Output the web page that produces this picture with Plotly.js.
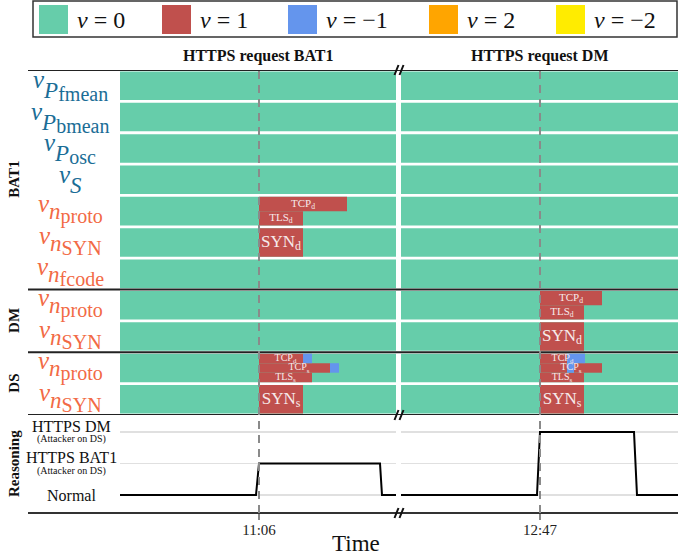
<!DOCTYPE html>
<html><head><meta charset="utf-8">
<script src="https://cdn.plot.ly/plotly-3.0.1.min.js"></script>
<style>html,body{margin:0;padding:0;background:#fff}</style>
</head><body><div id="chart" style="width:678px;height:558px"></div>
<script>
// ---------------- data ----------------
const legendValues = [0, 1, -1, 2, -2];
const legendLabels = ['<i>v</i> = 0', '<i>v</i> = 1', '<i>v</i> = \u22121', '<i>v</i> = 2', '<i>v</i> = \u22122'];

const panelTitles = ['HTTPS request BAT1', 'HTTPS request DM'];
const panelTickLabels = ['11:06', '12:47'];
const panelEventTime = [0, 0];          // seconds relative to the tick time
const panelStart = [-139, -139];
const panelEnd = [137, 138];

const rowSymbols = ['P', 'P', 'P', 'S', 'n', 'n', 'n', 'n', 'n', 'n', 'n'];
const rowSubscripts = ['fmean', 'bmean', 'osc', '', 'proto', 'SYN', 'fcode', 'proto', 'SYN', 'proto', 'SYN'];
const groupNames = ['BAT1', 'DM', 'DS'];
const groupFirstRow = [0, 7, 9];
const groupLastRow = [6, 8, 10];

// anomaly segments
const segPanel = [0, 0, 0, 0, 0, 0, 0, 0, 0, 1, 1, 1, 1, 1, 1, 1, 1, 1, 1];
const segRow   = [4, 4, 5, 9, 9, 9, 9, 9, 10, 7, 7, 8, 9, 9, 9, 9, 9, 9, 10];
const segSlot  = [0, 1, 0, 0, 0, 1, 1, 2, 0, 0, 1, 0, 0, 0, 1, 1, 1, 2, 0];
const segSlots = [2, 2, 1, 3, 3, 3, 3, 3, 1, 2, 2, 1, 3, 3, 3, 3, 3, 3, 1];
const segStart = [0, 0, 0, 0, 44, 0, 71, 0, 0, 0, 0, 0, 0, 27, 0, 27, 34, 0, 0];
const segEnd   = [88, 44, 44, 44, 53, 71, 80, 53, 44, 62, 44, 44, 27, 45, 27, 34, 62, 44, 44];
const segValue = [1, 1, 1, 1, -1, 1, -1, 1, 1, 1, 1, 1, 1, -1, 1, -1, 1, 1, 1];
const segLabel = ['TCP_d', 'TLS_d', 'SYN_d', 'TCP_d', '', 'TCP_s', '', 'TLS_s', 'SYN_s',
                  'TCP_d', 'TLS_d', 'SYN_d', 'TCP_d', '', 'TCP_s', '', '', 'TLS_s', 'SYN_s'];

// reasoning
const reasonLevels = [0, 1, 2];
const reasonLabels = ['Normal', 'HTTPS BAT1', 'HTTPS DM'];
const reasonNotes = ['', '(Attacker on DS)', '(Attacker on DS)'];
const reasonTime = [[-139, -3, 0, 121, 123, 137], [-139, -3, 0, 94, 97, 138]];
const reasonValue = [[0, 0, 1, 1, 0, 0], [0, 0, 2, 2, 0, 0]];

// ---------------- style ----------------
const W = 678, H = 558;
const fx = p => p / W;
const fy = p => 1 - p / H;
const FONT = 'Liberation Serif, DejaVu Serif, serif';
const valueColor = {'0': '#66cdaa', '1': '#c0504d', '-1': '#6495ed', '2': '#ffa500', '-2': '#ffec00'};
const BLUE = '#1a6d96', ORANGE = '#f26a45';
const ROWH = 0.91;
const xAxisIds = ['x', 'x2'];

function subText(s) {
  const m = s.split('_');
  return m.length > 1 ? m[0] + '<sub>' + m[1] + '</sub>' : s;
}

const traces = [];
const nRows = rowSymbols.length;
for (let p = 0; p < 2; p++) {
  const xa = xAxisIds[p];
  const ys = [], bases = [], lens = [];
  for (let r = 0; r < nRows; r++) { ys.push(r); bases.push(panelStart[p]); lens.push(panelEnd[p] - panelStart[p]); }
  traces.push({type: 'bar', orientation: 'h', y: ys, base: bases, x: lens, width: ROWH,
    marker: {color: valueColor['0'], line: {width: 0}}, xaxis: xa, yaxis: 'y2', hoverinfo: 'skip'});
  [1, -1, 2, -2].forEach(v => {
    const y = [], b = [], l = [], w = [];
    for (let i = 0; i < segPanel.length; i++) {
      if (segPanel[i] !== p || segValue[i] !== v) continue;
      const h = ROWH / segSlots[i];
      y.push(segRow[i] - ROWH / 2 + (segSlot[i] + 0.5) * h);
      b.push(segStart[i]); l.push(segEnd[i] - segStart[i]); w.push(h);
    }
    if (y.length) traces.push({type: 'bar', orientation: 'h', y: y, base: b, x: l, width: w,
      marker: {color: valueColor[String(v)], line: {width: 0}}, xaxis: xa, yaxis: 'y2', hoverinfo: 'skip'});
  });
  const tx = [], ty = [], tt = [], ts = [];
  for (let i = 0; i < segPanel.length; i++) {
    if (segPanel[i] !== p || !segLabel[i]) continue;
    let lo = Infinity, hi = -Infinity;
    for (let j = 0; j < segPanel.length; j++) {
      if (segPanel[j] === p && segRow[j] === segRow[i] && segSlot[j] === segSlot[i]) {
        lo = Math.min(lo, segStart[j]); hi = Math.max(hi, segEnd[j]);
      }
    }
    const h = ROWH / segSlots[i];
    tx.push((lo + hi) / 2);
    ty.push(segRow[i] - ROWH / 2 + (segSlot[i] + 0.5) * h);
    tt.push(subText(segLabel[i]));
    ts.push(segSlots[i] === 1 ? 17 : (segSlots[i] === 2 ? 11 : 10));
  }
  traces.push({type: 'scatter', mode: 'text', x: tx, y: ty, text: tt, textposition: 'middle center',
    textfont: {family: FONT, size: ts, color: '#f6eaea'}, xaxis: xa, yaxis: 'y2', hoverinfo: 'skip', cliponaxis: false});
  traces.push({type: 'scatter', mode: 'lines', x: reasonTime[p], y: reasonValue[p],
    line: {color: '#000', width: 2}, xaxis: xa, yaxis: 'y', hoverinfo: 'skip'});
}

// ---------------- layout ----------------
const shapes = [], annotations = [];
function note(o) { o.showarrow = false; if (!o.xanchor) o.xanchor = 'center'; if (!o.yanchor) o.yanchor = 'middle'; annotations.push(o); }

const bounds = new Set();
groupFirstRow.forEach(r => bounds.add(r - 0.5));
groupLastRow.forEach(r => bounds.add(r + 0.5));
bounds.forEach(b => shapes.push({type: 'line', xref: 'paper', yref: 'y2', x0: fx(28), x1: 1, y0: b, y1: b,
  line: {color: '#222', width: 2}, layer: 'above'}));
shapes.push({type: 'line', xref: 'paper', yref: 'y domain', x0: fx(28), x1: 1, y0: 0, y1: 0,
  line: {color: '#333', width: 2}, layer: 'above'});
for (let p = 0; p < 2; p++) {
  shapes.push({type: 'line', xref: xAxisIds[p], yref: 'paper', x0: panelEventTime[p], x1: panelEventTime[p],
    y0: fy(513), y1: fy(70), line: {color: '#8a8a8a', width: 2, dash: '8px,6px'}, layer: 'above'});
}
[70, 415, 513].forEach(yy => {
  [394.5, 399.5].forEach(xx => shapes.push({type: 'line', xref: 'paper', yref: 'paper',
    x0: fx(xx), x1: fx(xx + 4), y0: fy(yy + 5), y1: fy(yy - 5), line: {color: '#111', width: 2}, layer: 'above'}));
});

// legend
const legendX = [39, 162, 288, 429, 556];
shapes.push({type: 'rect', xref: 'paper', yref: 'paper', x0: fx(33), x1: fx(677), y0: fy(37), y1: fy(1),
  line: {color: '#333', width: 1.5}, fillcolor: 'rgba(0,0,0,0)'});
legendValues.forEach((v, i) => {
  shapes.push({type: 'rect', xref: 'paper', yref: 'paper', x0: fx(legendX[i]), x1: fx(legendX[i] + 29),
    y0: fy(34), y1: fy(5), line: {width: 0}, fillcolor: valueColor[String(v)]});
  note({xref: 'paper', yref: 'paper', x: fx(legendX[i] + 36), y: fy(20), xanchor: 'left',
    text: legendLabels[i], font: {family: FONT, size: 24, color: '#111'}});
});

panelTitles.forEach((t, p) => note({xref: xAxisIds[p] + ' domain', yref: 'paper', x: 0.5, y: fy(56),
  text: '<b>' + t + '</b>', font: {family: FONT, size: 16, color: '#111'}}));

function rowLabel(sym, sub) {
  const symHtml = '<span style="font-size:23px"><i>' + sym + '</i></span>';
  const subHtml = sub ? '<sub><span style="font-size:20px">' + sub + '</span></sub>' : '';
  const inner = sym === 'n' ? '<sub>' + symHtml + subHtml + '</sub>' : '<sub><sub>' + symHtml + subHtml + '</sub></sub>';
  return '<span style="font-size:25px"><i>v</i></span>' + inner;
}
for (let r = 0; r < nRows; r++) {
  const upper = rowSymbols[r] !== 'n';
  note({xref: 'paper', yref: 'y2', x: fx(70), y: r,
    text: rowLabel(rowSymbols[r], rowSubscripts[r]), yshift: upper ? 0 : 2,
    font: {family: FONT, size: upper ? 28 : 32, color: upper ? BLUE : ORANGE}});
}
groupNames.forEach((g, i) => note({xref: 'paper', yref: 'y2', x: fx(14), y: (groupFirstRow[i] + groupLastRow[i]) / 2,
  text: '<b>' + g + '</b>', textangle: -90, font: {family: FONT, size: 15, color: '#111'}}));
note({xref: 'paper', yref: 'y domain', x: fx(14), y: 0.5, text: '<b>Reasoning</b>', textangle: -90,
  font: {family: FONT, size: 15, color: '#111'}});
reasonLevels.forEach((lv, i) => {
  const n = reasonNotes[i];
  note({xref: 'paper', yref: 'y', x: fx(71), y: lv, text: reasonLabels[i],
    yshift: n ? 6 : 0, font: {family: FONT, size: 16, color: '#111'}});
  if (n) note({xref: 'paper', yref: 'y', x: fx(71), y: lv, text: n,
    yshift: -7, font: {family: FONT, size: 10, color: '#111'}});
});
note({xref: 'paper', yref: 'paper', x: fx(356), y: fy(543), text: 'Time',
  font: {family: FONT, size: 23, color: '#111'}});

function xAxis(p, dom) {
  return {domain: dom, range: [panelStart[p], panelEnd[p]], anchor: 'y', tickvals: [panelEventTime[p]],
    ticktext: [panelTickLabels[p]], ticks: 'outside', ticklen: 6, tickwidth: 2, tickcolor: '#8a8a8a',
    ticklabelstandoff: -3,
    showgrid: false, zeroline: false, showline: false, fixedrange: true,
    tickfont: {family: FONT, size: 15, color: '#222'}};
}

const layout = {
  width: W, height: H, margin: {l: 0, r: 0, t: 0, b: 0}, paper_bgcolor: '#fff', plot_bgcolor: '#fff',
  showlegend: false, hovermode: false, barmode: 'overlay',
  font: {family: FONT},
  xaxis: xAxis(0, [fx(120), fx(396)]),
  xaxis2: xAxis(1, [fx(401), 1]),
  yaxis: {domain: [fy(513), fy(415)], range: [-0.57, 2.54], anchor: 'x', tickvals: reasonLevels,
    showticklabels: false, showgrid: true, gridcolor: '#e0e0e0', gridwidth: 1.5, zeroline: false, fixedrange: true},
  yaxis2: {domain: [fy(415), fy(70)], range: [10.5, -0.5], anchor: 'x', showticklabels: false,
    showgrid: false, zeroline: false, fixedrange: true},
  shapes: shapes, annotations: annotations
};

Plotly.newPlot('chart', traces, layout, {displayModeBar: false, staticPlot: true});
</script></body></html>
